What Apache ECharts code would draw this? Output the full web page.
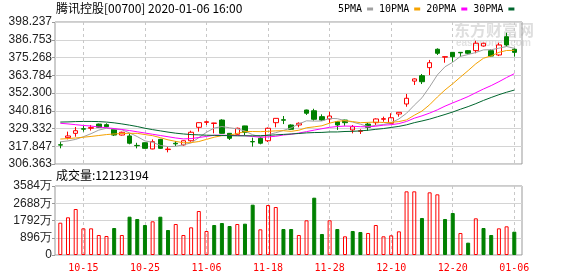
<!DOCTYPE html>
<html><head><meta charset="utf-8">
<script src="https://cdn.jsdelivr.net/npm/echarts/dist/echarts.min.js"></script>
<style>html,body{margin:0;padding:0;background:#fff}#c{width:578px;height:276px}</style>
</head><body><div id="c"></div>
<script>
const titleText = '腾讯控股[00700] 2020-01-06 16:00';
const volumeLabel = '成交量:12123194';
const legendNames = ['5PMA', '10PMA', '20PMA', '30PMA'];
const dates = ['10-10','10-11','10-14','10-15','10-16','10-17','10-18','10-21','10-22','10-23',
 '10-24','10-25','10-28','10-29','10-30','10-31','11-01','11-04','11-05','11-06',
 '11-07','11-08','11-11','11-12','11-13','11-14','11-15','11-18','11-19','11-20',
 '11-21','11-22','11-25','11-26','11-27','11-28','11-29','12-02','12-03','12-04',
 '12-05','12-06','12-09','12-10','12-11','12-12','12-13','12-16','12-17','12-18',
 '12-19','12-20','12-23','12-24','12-27','12-30','12-31','01-02','01-03','01-06'];
const openP = [318.8,323.4,326.2,329.2,329.5,332.2,331.8,328.8,325.1,324.5,
 318.4,320.1,316.1,322.3,315.7,319.8,318.7,321.4,330.1,333.3,
 332.6,334.8,326.2,325.6,331.0,320.9,323.0,321.4,333.1,335.0,
 331.6,331.6,341.3,340.8,337.0,335.5,333.7,334.8,328.4,327.5,
 332.2,333.1,335.3,332.7,338.7,345.2,360.0,363.5,368.7,380.6,
 375.5,378.6,378.6,379.7,379.7,382.7,379.7,376.9,388.7,380.6];
const closeP = [318.6,324.5,327.9,328.9,329.9,330.1,330.5,325.1,326.9,319.8,
 318.2,316.5,320.8,316.5,316.0,319.4,321.4,326.9,333.1,333.7,
 332.9,326.2,323.0,329.5,326.9,320.7,319.8,329.5,335.9,334.7,
 328.8,332.7,339.2,335.3,334.8,337.4,331.6,333.1,330.5,327.9,
 330.1,335.5,335.7,336.3,339.8,348.9,361.4,359.6,371.9,378.0,
 375.8,375.8,378.3,378.0,384.5,384.5,376.2,383.4,383.4,378.6];
const lowP = [316.5,322.3,324.0,327.3,328.0,329.7,330.1,324.5,324.8,319.1,
 316.5,316.3,315.9,316.1,313.9,318.0,318.2,320.8,327.3,331.6,
 326.2,326.0,321.9,325.3,325.1,317.6,319.1,320.6,330.1,332.2,
 328.5,330.1,338.1,334.4,334.2,332.7,328.4,331.1,326.2,325.8,
 327.9,331.6,333.7,332.5,337.0,343.4,357.5,358.1,363.9,376.9,
 371.9,372.5,375.8,377.4,378.0,382.3,375.8,376.2,382.3,375.8];
const highP = [320.8,327.3,330.3,331.0,331.6,332.5,332.7,329.5,327.3,326.2,
 320.1,320.3,322.3,322.6,317.6,321.2,321.6,327.9,333.3,334.4,
 333.0,335.3,326.4,329.9,331.1,323.4,324.0,330.0,336.0,337.4,
 332.0,333.3,341.5,342.1,338.5,340.2,334.0,335.0,331.6,328.8,
 333.1,335.9,337.0,339.2,339.9,351.7,361.8,364.6,373.7,381.2,
 375.9,378.8,378.7,380.1,386.1,384.8,380.6,384.8,391.3,381.2];
const ma5 = [320.7,321.3,322.3,324.0,326.0,328.3,329.5,328.9,328.5,326.5,
 324.1,321.3,320.4,318.4,317.6,317.8,318.8,320.0,323.4,326.9,
 329.6,330.6,329.8,329.1,327.7,325.3,324.0,325.3,326.6,328.1,
 329.7,332.3,334.3,334.1,334.2,335.9,335.7,334.4,333.5,332.1,
 330.6,331.4,331.9,333.1,335.5,339.2,344.4,349.2,356.3,364.0,
 369.3,372.2,376.0,377.2,378.5,380.2,380.3,381.3,382.4,381.2];
const ma10 = [322.5,322.8,323.2,323.7,324.2,324.8,325.4,325.8,326.1,326.2,
 326.2,325.4,324.7,323.4,322.0,321.0,320.1,320.2,320.9,322.3,
 323.7,324.7,324.9,326.2,327.3,327.4,327.3,327.5,327.8,327.9,
 327.5,328.2,329.8,330.4,331.1,332.8,334.0,334.4,333.8,333.1,
 333.3,333.5,333.2,333.3,333.8,334.9,337.9,340.6,344.7,349.7,
 354.3,358.3,362.6,366.8,371.2,374.8,376.3,378.6,379.8,379.9];
const ma20 = [332.7,332.3,331.8,331.3,330.9,330.3,329.8,329.3,328.7,328.0,
 327.2,326.4,325.6,324.8,324.0,323.2,322.6,322.8,323.5,324.2,
 325.0,325.0,324.8,324.8,324.7,324.2,323.7,323.9,324.3,325.1,
 325.6,326.4,327.3,328.3,329.2,330.1,330.6,330.9,330.8,330.5,
 330.4,330.8,331.5,331.8,332.5,333.9,336.0,337.5,339.3,341.4,
 343.8,345.9,347.9,350.0,352.5,354.9,357.1,359.6,362.3,364.8];
const ma30 = [333.5,333.6,333.8,333.9,333.9,333.8,333.5,333.0,332.3,331.5,
 330.6,329.5,328.6,327.8,327.0,326.3,325.8,325.4,325.2,325.0,
 324.9,324.8,324.7,324.6,324.6,324.6,324.7,324.9,325.2,325.5,
 325.8,326.1,326.5,326.7,326.8,327.1,327.1,327.4,327.5,327.8,
 328.2,328.8,329.3,330.0,330.7,331.7,333.1,334.2,335.4,336.9,
 338.4,340.0,341.8,343.5,345.4,347.5,349.4,351.2,352.8,354.2];
const volume = [1678,1958,2389,1385,1385,1039,987,1402,1039,1990,
 1870,1558,1749,1990,1298,1610,1039,1437,2285,1247,
 1558,1662,1506,1610,1627,2614,1333,2597,2493,1350,
 1350,1039,1801,2977,1091,1801,1350,970,1247,1195,
 1143,1558,970,1022,1229,3307,3307,1922,3255,3151,
 1870,2181,1143,641,1905,1402,1039,1385,1490,1212];
const volUp = [1,1,1,1,1,1,1,0,1,0, 0,0,1,0,0,1,1,1,1,1, 0,0,0,1,0,0,1,1,1,0,
 0,1,1,0,0,1,0,1,0,0, 1,1,1,1,1,1,1,0,1,1, 0,0,1,0,1,0,0,1,1,0];
const priceTicks = ['306.363','317.847','329.332','340.816','352.300','363.784','375.268','386.753','398.237'];
const volTicks = ['0','896万','1792万','2688万','3584万'];
const priceMin = 306.363, priceMax = 398.237, volMax = 3584;

const RED = '#ff0000', GREEN = '#008000';
const maColors = ['#a0a0a0', '#f5a200', '#ff00ff', '#00662e'];
const maData = [ma5, ma10, ma20, ma30];
const labelFont = 'Liberation Sans';
const monoFont = 'DejaVu Sans Mono';

const chart = echarts.init(document.getElementById('c'), null, {renderer: 'canvas'});
const candles = openP.map((o, i) => [o, closeP[i], lowP[i], highP[i]]);
const volData = volume.map((v, i) => ({
  value: v,
  itemStyle: volUp[i]
    ? {color: 'rgba(255,255,255,0)', borderColor: RED, borderWidth: 1}
    : {color: GREEN, borderColor: GREEN, borderWidth: 1}
}));
const showIdx = (i) => i % 8 === 3;
const dashed = {show: true, interval: showIdx, lineStyle: {type: [3, 3], color: '#c8c8c8', width: 1}};

const option = {
  animation: false,
  backgroundColor: '#fff',
  title: [
    {text: titleText, left: 56, top: 2, padding: 0,
     textStyle: {fontSize: 12, fontWeight: 'normal', color: '#000', fontFamily: 'Noto Sans CJK SC'}},
    {text: volumeLabel, left: 56, top: 169, padding: 0,
     textStyle: {fontSize: 12, fontWeight: 'normal', color: '#000', fontFamily: 'Noto Sans CJK SC'}}
  ],
  legend: {
    data: legendNames, left: 338, top: 4, padding: 0, align: 'right', icon: 'rect',
    itemWidth: 6, itemHeight: 3, itemGap: 6, selectedMode: false,
    textStyle: {fontSize: 10, color: '#000', fontFamily: monoFont}
  },
  graphic: [
    {type: 'text', left: 454, top: 22, z: -10, silent: true,
     style: {text: '东方财富网', fontSize: 16, fontWeight: 'bold', fill: '#dedede', fontFamily: 'Noto Sans CJK SC'}},
    {type: 'text', left: 456, top: 38, z: -10, silent: true,
     style: {text: 'eastmoney.com', fontSize: 10, fontWeight: 'bold', fill: '#e2e2e2', fontFamily: labelFont}}
  ],
  grid: [
    {left: 55, top: 22, width: 467, height: 142, show: true, borderColor: '#999', borderWidth: 1, outerBoundsMode: 'none'},
    {left: 60.3, top: 22, width: 454, height: 142, outerBoundsMode: 'none'},
    {left: 55, top: 186, width: 467, height: 69, show: true, borderColor: '#999', borderWidth: 1, outerBoundsMode: 'none'},
    {left: 60.3, top: 186, width: 454, height: 69, outerBoundsMode: 'none'}
  ],
  xAxis: [
    {gridIndex: 0, type: 'value', min: 0, max: 1, show: false},
    {gridIndex: 1, type: 'category', data: dates, boundaryGap: false,
     axisLine: {show: false}, axisTick: {show: false}, axisLabel: {show: false}, splitLine: dashed},
    {gridIndex: 2, type: 'value', min: 0, max: 1, show: false},
    {gridIndex: 3, type: 'category', data: dates, boundaryGap: false,
     axisLine: {show: false}, axisTick: {show: false}, splitLine: dashed,
     axisLabel: {show: true, interval: showIdx, color: RED, fontSize: 10, fontFamily: monoFont, margin: 8}}
  ],
  yAxis: [
    {gridIndex: 0, type: 'value', min: 0, max: 8, interval: 1,
     axisLine: {show: false}, axisTick: {show: true, length: 3, lineStyle: {color: '#999'}},
     axisLabel: {formatter: (v) => priceTicks[v], color: '#222', fontSize: 12, fontFamily: labelFont, margin: 3},
     splitLine: {show: true, lineStyle: {color: '#d4d4d4', width: 1}}},
    {gridIndex: 1, type: 'value', min: priceMin, max: priceMax, show: false},
    {gridIndex: 2, type: 'value', min: 0, max: 4, interval: 1,
     axisLine: {show: false}, axisTick: {show: true, length: 3, lineStyle: {color: '#999'}},
     axisLabel: {formatter: (v) => volTicks[v], color: '#222', fontSize: 12, fontFamily: labelFont, margin: 3},
     splitLine: {show: true, lineStyle: {color: '#d4d4d4', width: 1}}},
    {gridIndex: 3, type: 'value', min: 0, max: volMax, show: false}
  ],
  series: [
    {type: 'candlestick', name: 'K', xAxisIndex: 1, yAxisIndex: 1, data: candles, clip: false,
     barWidth: 5,
     itemStyle: {color: 'rgba(255,255,255,0)', color0: GREEN, borderColor: RED, borderColor0: GREEN, borderWidth: 1}},
    ...maData.map((d, k) => ({
      type: 'line', name: legendNames[k], xAxisIndex: 1, yAxisIndex: 1, data: d,
      showSymbol: false, symbol: 'none', clip: false, z: 3,
      color: maColors[k], lineStyle: {color: maColors[k], width: 1}
    })),
    {type: 'bar', name: 'VOL', xAxisIndex: 3, yAxisIndex: 3, data: volData, barWidth: 4, clip: false}
  ]
};
chart.setOption(option);
</script>
</body></html>
